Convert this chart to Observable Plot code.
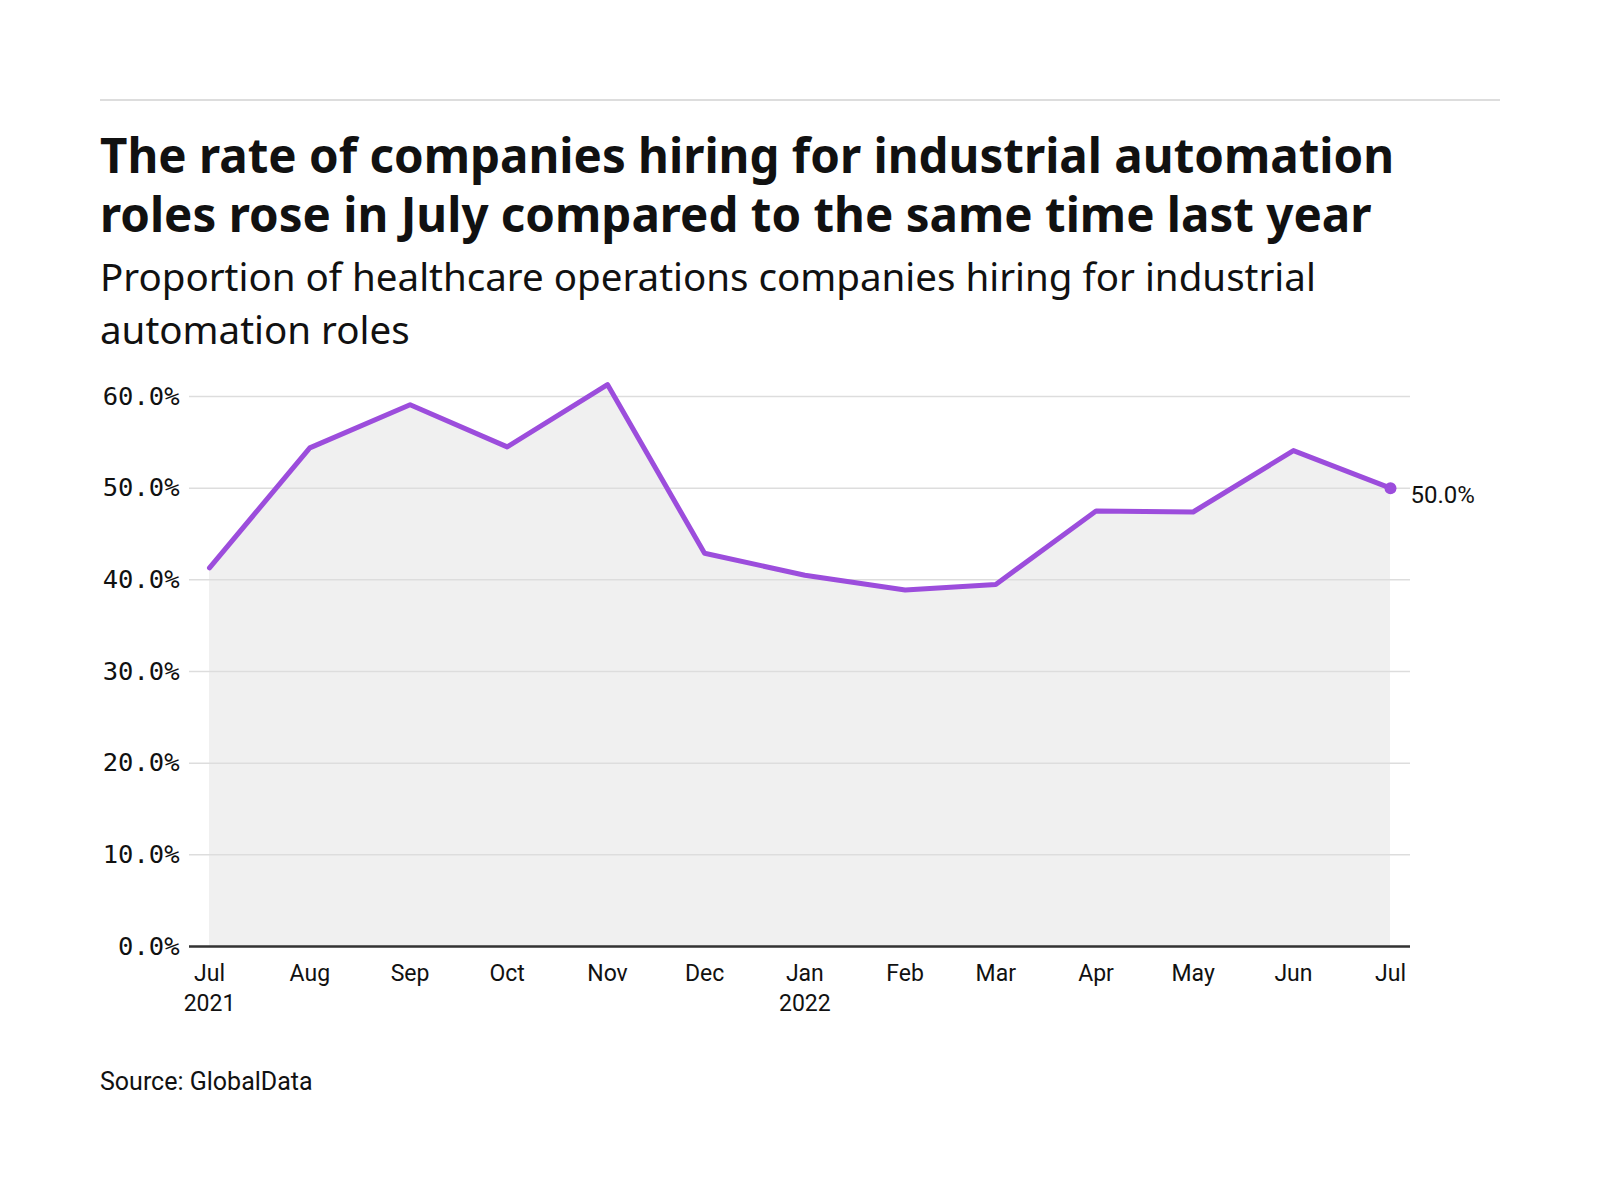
<!DOCTYPE html>
<html>
<head>
<meta charset="utf-8">
<script src="https://cdn.jsdelivr.net/npm/d3@7"></script>
<script src="https://cdn.jsdelivr.net/npm/@observablehq/plot@0.6"></script>
<style>
  html, body { margin: 0; padding: 0; background: #fff; }
  #page { position: relative; width: 1600px; height: 1200px; }
  #rule { position: absolute; left: 100px; top: 99px; width: 1400px; height: 0; border-top: 2px solid #dddddd; }
  #title { position: absolute; left: 100px; top: 125px; width: 1400px; font-family: "Noto Sans", sans-serif; font-weight: 700; font-size: 47.5px; line-height: 59px; color: #111; margin: 0; }
  #subtitle { position: absolute; left: 100px; top: 250px; width: 1320px; font-family: "Noto Sans", sans-serif; font-weight: 400; font-size: 38.5px; line-height: 53px; color: #111; margin: 0; }
  #chart { position: absolute; left: 100px; top: 360px; }
  #source { position: absolute; left: 100px; top: 1067px; font-family: Roboto, sans-serif; font-size: 25px; line-height: 30px; color: #111; }
</style>
</head>
<body>
<div id="page">
  <div id="rule"></div>
  <h1 id="title">The rate of companies hiring for industrial automation roles rose in July compared to the same time last year</h1>
  <h2 id="subtitle">Proportion of healthcare operations companies hiring for industrial automation roles</h2>
  <div id="chart"></div>
  <div id="source">Source: GlobalData</div>
</div>
<script>
const months = ["2021-07","2021-08","2021-09","2021-10","2021-11","2021-12","2022-01","2022-02","2022-03","2022-04","2022-05","2022-06","2022-07"];
const values = [0.413, 0.544, 0.591, 0.545, 0.613, 0.429, 0.405, 0.389, 0.395, 0.475, 0.474, 0.541, 0.500];
const yTicks = [0, 0.1, 0.2, 0.3, 0.4, 0.5, 0.6];

const parse = d3.utcParse("%Y-%m");
const data = months.map((m, i) => ({date: parse(m), value: values[i]}));
const last = data[data.length - 1];

const fmtMonth = d3.utcFormat("%b");
const xFormat = (d) => d.getUTCMonth() === 0 || +d === +data[0].date ? `${fmtMonth(d)}\n${d.getUTCFullYear()}` : fmtMonth(d);

const chart = Plot.plot({
  width: 1400,
  height: 680,
  marginLeft: 89,
  marginRight: 90,
  marginTop: 36,
  marginBottom: 94,
  style: { background: "transparent", color: "#111" },
  x: { type: "utc", domain: [data[0].date, last.date], inset: 20, label: null },
  y: { domain: [0, 0.6], label: null },
  marks: [
    Plot.areaY(data, { x: "date", y: "value", fill: "#f0f0f0" }),
    Plot.gridY(yTicks, { stroke: "#dddddd", strokeOpacity: 1, strokeWidth: 1.5 }),
    Plot.axisY({ ticks: yTicks, tickFormat: d3.format(".1%"), tickSize: 0, tickPadding: 10, fontFamily: "DejaVu Sans Mono, monospace", fontSize: 25.5, fill: "#111" }),
    Plot.axisX({ ticks: data.map(d => d.date), tickFormat: xFormat, tickSize: 0, tickPadding: 13, fontFamily: "Roboto, sans-serif", fontSize: 23, fill: "#111", lineHeight: 1.3 }),
    Plot.ruleY([0], { stroke: "#333333", strokeWidth: 2.5 }),
    Plot.line(data, { x: "date", y: "value", stroke: "#9c4ddc", strokeWidth: 5 }),
    Plot.dot([last], { x: "date", y: "value", r: 6, fill: "#9c4ddc" }),
    Plot.text([last], { x: "date", y: "value", text: d => d3.format(".1%")(d.value), dx: 20, dy: 7, textAnchor: "start", fontFamily: "Roboto, sans-serif", fontSize: 24, fill: "#111" })
  ]
});
document.getElementById("chart").appendChild(chart);
</script>
</body>
</html>
